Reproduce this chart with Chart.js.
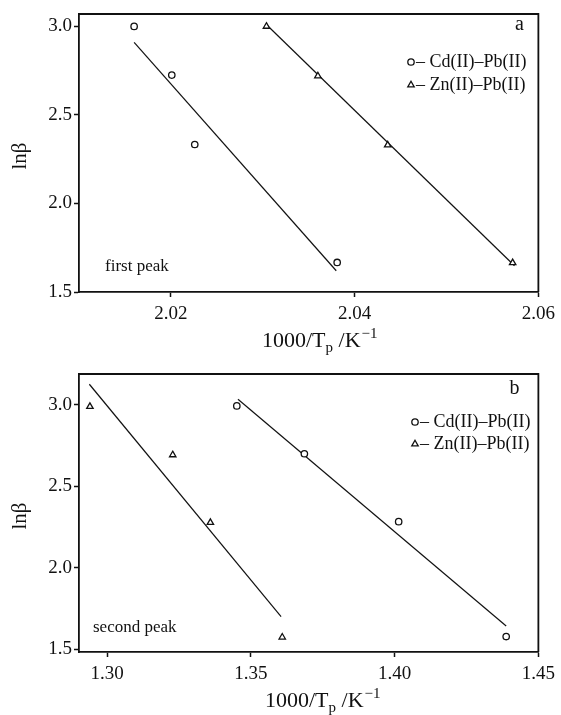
<!DOCTYPE html>
<html>
<head>
<meta charset="utf-8">
<script src="https://cdn.jsdelivr.net/npm/chart.js@4.4.1/dist/chart.umd.min.js"></script>
<style>
  body { margin: 0; background: #fff; }
  .panel { position: absolute; left: 0; width: 561px; }
  #topPanel { top: 0; height: 358px; }
  #bottomPanel { top: 358px; height: 357px; }
</style>
</head>
<body>
<div class="panel" id="topPanel"><canvas id="chartA" width="561" height="358"></canvas></div>
<div class="panel" id="bottomPanel"><canvas id="chartB" width="561" height="357"></canvas></div>
<script>
// panel a - first peak
const aCdX = [2.0160, 2.0201, 2.0226, 2.0381];
const aCdY = [3.00, 2.725, 2.333, 1.667];
const aZnX = [2.0304, 2.0360, 2.0436, 2.0572];
const aZnY = [3.00, 2.72, 2.33, 1.665];
const aCdFitX = [2.0160, 2.0380];
const aCdFitY = [2.91, 1.62];
const aZnFitX = [2.0305, 2.0574];
const aZnFitY = [3.005, 1.648];
const aXTicks = [2.02, 2.04, 2.06];
const aYTicks = [1.5, 2.0, 2.5, 3.0];

// panel b - second peak
const bCdX = [1.3451, 1.3686, 1.4014, 1.4388];
const bCdY = [2.994, 2.70, 2.283, 1.577];
const bZnX = [1.2940, 1.3228, 1.3359, 1.3609];
const bZnY = [2.99, 2.693, 2.277, 1.573];
const bCdFitX = [1.3455, 1.4388];
const bCdFitY = [3.035, 1.642];
const bZnFitX = [1.2938, 1.3605];
const bZnFitY = [3.127, 1.70];
const bXTicks = [1.30, 1.35, 1.40, 1.45];
const bYTicks = [1.5, 2.0, 2.5, 3.0];

const seriesNames = ['Cd(II)–Pb(II)', 'Zn(II)–Pb(II)'];

const SERIF = '"Liberation Serif", "Times New Roman", serif';
const INK = '#111';

function pts(xs, ys) {
    return xs.map((x, i) => ({x: x, y: ys[i]}));
}

function marker(ctx, style, x, y) {
    ctx.beginPath();
    if (style === 'circle') {
        ctx.arc(x, y, 3.2, 0, Math.PI * 2);
    } else {
        const r = 3.7;
        ctx.moveTo(x, y - r);
        ctx.lineTo(x + r * 0.866, y + r * 0.5);
        ctx.lineTo(x - r * 0.866, y + r * 0.5);
        ctx.closePath();
    }
    ctx.fillStyle = '#fff';
    ctx.fill();
    ctx.lineWidth = 1.3;
    ctx.strokeStyle = INK;
    ctx.stroke();
}

// frame, labels, legend and axis titles
const decorPlugin = {
    id: 'decor',
    afterDraw(chart, args, opts) {
        const {ctx, chartArea: {top, left, right, bottom}} = chart;
        ctx.save();

        // top and right sides of the box
        ctx.strokeStyle = INK;
        ctx.lineWidth = 1.8;
        ctx.beginPath();
        ctx.moveTo(left, top);
        ctx.lineTo(right, top);
        ctx.lineTo(right, bottom);
        ctx.stroke();

        ctx.fillStyle = INK;
        ctx.textBaseline = 'middle';

        // panel letter
        ctx.font = '20px ' + SERIF;
        ctx.textAlign = 'center';
        ctx.fillText(opts.letter, right - opts.letterDx, top + opts.letterDy);

        // legend
        ctx.font = '18px ' + SERIF;
        ctx.textAlign = 'left';
        ['circle', 'triangle'].forEach((st, i) => {
            const y = top + opts.legendY + i * opts.legendGap;
            marker(ctx, st, opts.legendX, y);
            ctx.fillStyle = INK;
            ctx.fillText('– ' + seriesNames[i], opts.legendX + 5, y);
        });

        // peak note
        ctx.font = '17px ' + SERIF;
        ctx.fillText(opts.note, left + opts.noteDx, bottom - opts.noteDy);

        // y title
        ctx.save();
        ctx.translate(20, (top + bottom) / 2 + 3);
        ctx.rotate(-Math.PI / 2);
        ctx.textAlign = 'center';
        ctx.font = '21px ' + SERIF;
        ctx.fillText('lnβ', 0, 0);
        ctx.restore();

        // x title with sub/superscript
        ctx.textBaseline = 'alphabetic';
        ctx.textAlign = 'left';
        let x = opts.titleX;
        const y = bottom + 55;
        ctx.font = '22px ' + SERIF;
        ctx.fillText('1000/T', x, y);
        x += ctx.measureText('1000/T').width;
        ctx.font = '15px ' + SERIF;
        ctx.fillText('p', x, y + 5);
        x += ctx.measureText('p').width;
        ctx.font = '22px ' + SERIF;
        ctx.fillText(' /K', x, y);
        x += ctx.measureText(' /K').width;
        ctx.font = '15px ' + SERIF;
        ctx.fillText('−1', x + 1, y - 9);

        ctx.restore();
    }
};

function createPanel(id, p) {
    const ctx = document.getElementById(id).getContext('2d');
    const tickFont = {family: SERIF, size: 19};

    new Chart(ctx, {
        type: 'scatter',
        data: {
            datasets: [
                {data: pts(p.cdX, p.cdY), pointStyle: 'circle', pointRadius: 3.2,
                 borderColor: INK, backgroundColor: '#fff', pointBorderWidth: 1.3, showLine: false},
                {data: pts(p.znX, p.znY), pointStyle: 'triangle', pointRadius: 3.7,
                 borderColor: INK, backgroundColor: '#fff', pointBorderWidth: 1.3, showLine: false},
                {data: pts(p.cdFitX, p.cdFitY), showLine: true, pointRadius: 0,
                 borderColor: INK, borderWidth: 1.2, fill: false},
                {data: pts(p.znFitX, p.znFitY), showLine: true, pointRadius: 0,
                 borderColor: INK, borderWidth: 1.2, fill: false}
            ]
        },
        options: {
            responsive: false,
            animation: false,
            devicePixelRatio: 1,
            layout: {padding: {top: p.padTop, right: 20, left: 0, bottom: 0}},
            scales: {
                x: {
                    type: 'linear',
                    min: p.xMin, max: p.xMax,
                    afterBuildTicks: s => { s.ticks = p.xTicks.map(v => ({value: v})); },
                    afterFit: s => { s.height = p.xAxisH; },
                    ticks: {callback: v => v.toFixed(2), font: tickFont, color: INK, padding: 6, maxRotation: 0},
                    grid: {drawOnChartArea: false, drawTicks: true, tickLength: 5, tickWidth: 1.5, tickColor: INK},
                    border: {display: true, color: INK, width: 1.8}
                },
                y: {
                    type: 'linear',
                    min: p.yMin, max: p.yMax,
                    afterBuildTicks: s => { s.ticks = p.yTicks.map(v => ({value: v})); },
                    afterFit: s => { s.width = 79; },
                    ticks: {callback: v => v.toFixed(1), font: tickFont, color: INK, padding: 2},
                    grid: {drawOnChartArea: false, drawTicks: true, tickLength: 5, tickWidth: 1.5, tickColor: INK},
                    border: {display: true, color: INK, width: 1.8}
                }
            },
            plugins: {
                legend: {display: false},
                tooltip: {enabled: false},
                decor: p.decor
            }
        },
        plugins: [decorPlugin]
    });
}

createPanel('chartA', {
    cdX: aCdX, cdY: aCdY, znX: aZnX, znY: aZnY,
    cdFitX: aCdFitX, cdFitY: aCdFitY, znFitX: aZnFitX, znFitY: aZnFitY,
    xTicks: aXTicks, yTicks: aYTicks,
    xMin: 2.010, xMax: 2.060, yMin: 1.5, yMax: 3.07,
    padTop: 14, xAxisH: 66,
    decor: {letter: 'a', letterDx: 19, letterDy: 11, legendX: 411, legendY: 48, legendGap: 23,
            note: 'first peak', noteDx: 26, noteDy: 25, titleX: 262}
});

createPanel('chartB', {
    cdX: bCdX, cdY: bCdY, znX: bZnX, znY: bZnY,
    cdFitX: bCdFitX, cdFitY: bCdFitY, znFitX: bZnFitX, znFitY: bZnFitY,
    xTicks: bXTicks, yTicks: bYTicks,
    xMin: 1.2902, xMax: 1.45, yMin: 1.482, yMax: 3.19,
    padTop: 16, xAxisH: 63,
    decor: {letter: 'b', letterDx: 24, letterDy: 15, legendX: 415, legendY: 48, legendGap: 22,
            note: 'second peak', noteDx: 14, noteDy: 24, titleX: 265}
});
</script>
</body>
</html>
